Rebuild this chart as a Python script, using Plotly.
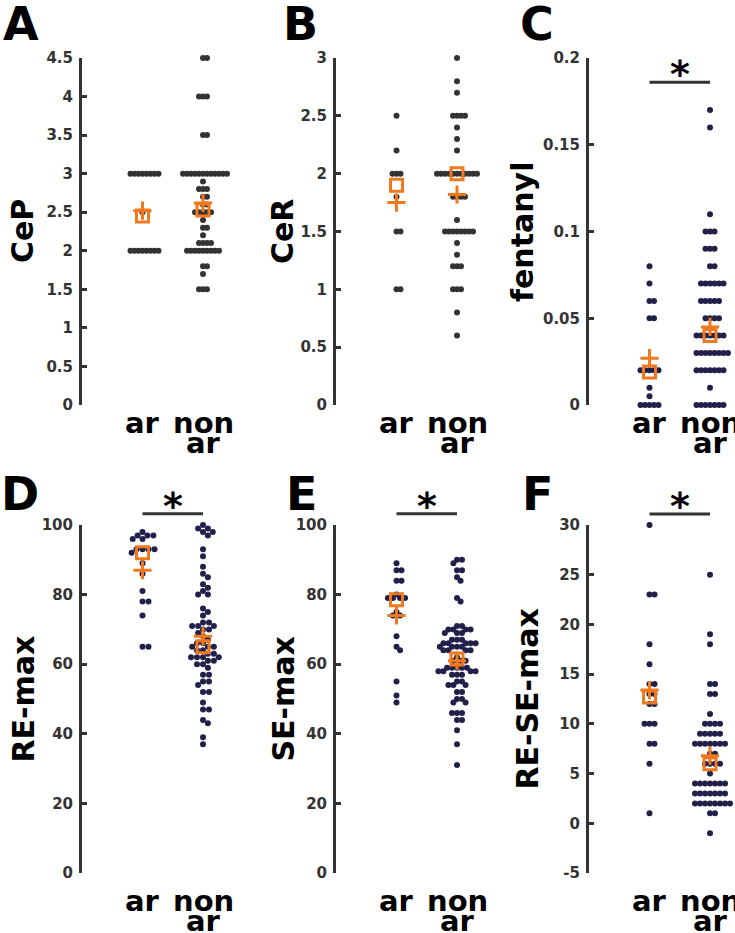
import plotly.graph_objects as go
import math

W, H = 735, 933

categories = ["ar", "non ar"]

# ---------------- data ----------------
cep_ar = [3, 3, 3, 3, 3, 3, 3, 3, 2.5, 2, 2, 2, 2, 2, 2, 2, 2]
cep_non = [4.5, 4.5, 4, 4, 4, 3.5, 3.5, 3, 3, 3, 3, 3, 3, 3, 3, 3, 3, 3, 3, 2.9,
           2.8, 2.8, 2.8, 2.7, 2.7, 2.6, 2.6, 2.5, 2.5, 2.5, 2.5, 2.5, 2.4, 2.3, 2.3,
           2.2, 2.1, 2.1, 2.1, 2.1, 2, 2, 2, 2, 2, 2, 2, 2, 2, 1.8, 1.8, 1.7, 1.5, 1.5, 1.5]
cep_mean = [2.52, 2.62]
cep_median = [2.45, 2.53]
cep_ticks = [0, 0.5, 1, 1.5, 2, 2.5, 3, 3.5, 4, 4.5]
cep_ticktext = ["0", "0.5", "1", "1.5", "2", "2.5", "3", "3.5", "4", "4.5"]

cer_ar = [2.5, 2.2, 2, 2, 2, 1.8, 1.5, 1.5, 1, 1]
cer_non = [3, 2.8, 2.7, 2.5, 2.5, 2.5, 2.5, 2.4, 2.3, 2.2, 2, 2, 2, 2, 2, 2, 2, 2, 2, 2, 2,
           1.8, 1.8, 1.8, 1.8, 1.6, 1.5, 1.5, 1.5, 1.5, 1.5, 1.5, 1.5, 1.5, 1.4, 1.3,
           1.2, 1.2, 1.2, 1, 1, 1, 0.8, 0.6]
cer_mean = [1.75, 1.82]
cer_median = [1.9, 2.0]
cer_ticks = [0, 0.5, 1, 1.5, 2, 2.5, 3]
cer_ticktext = ["0", "0.5", "1", "1.5", "2", "2.5", "3"]

fent_ar = [0.08, 0.07, 0.06, 0.06, 0.05, 0.05, 0.02, 0.02, 0.02, 0.02, 0.02, 0.01,
           0.005, 0, 0, 0, 0, 0]
fent_non = [0.17, 0.16, 0.11, 0.1, 0.1, 0.1, 0.09, 0.09, 0.09, 0.08, 0.08,
            0.07, 0.07, 0.07, 0.07, 0.07, 0.07, 0.06, 0.06, 0.06, 0.06, 0.06,
            0.05, 0.05, 0.05, 0.05, 0.04, 0.04, 0.04, 0.04, 0.04, 0.04, 0.04,
            0.03, 0.03, 0.03, 0.03, 0.03, 0.03, 0.03, 0.03,
            0.02, 0.02, 0.02, 0.02, 0.02, 0.02, 0.02, 0.01,
            0, 0, 0, 0, 0, 0, 0]
fent_mean = [0.027, 0.045]
fent_median = [0.019, 0.04]
fent_ticks = [0, 0.05, 0.1, 0.15, 0.2]
fent_ticktext = ["0", "0.05", "0.1", "0.15", "0.2"]

remax_ar = [98, 97, 97, 97, 96, 96, 93, 93, 93, 93, 92, 89, 86, 81, 78, 78, 74, 65, 65]
remax_non = [100, 99, 99, 98, 98, 97, 93, 91, 88, 86, 85, 83, 82, 81, 80, 80, 76, 75,
             74, 72, 72, 71, 71, 71, 70, 70, 69, 68, 67, 66, 66, 65, 65, 65, 64, 64,
             63, 63, 62, 62, 62, 62, 61, 61, 60, 60, 59, 57, 57, 55, 55, 54, 52, 52,
             49, 47, 47, 44, 43, 39, 37]
remax_mean = [87, 68]
remax_median = [92, 65]
max_ticks = [0, 20, 40, 60, 80, 100]
max_ticktext = ["0", "20", "40", "60", "80", "100"]

semax_ar = [89, 87, 87, 84, 84, 80, 79, 79, 79, 79, 75, 74, 74, 68, 65, 64, 55, 51, 49]
semax_non = [90, 90, 89, 87, 87, 85, 84, 79, 78, 71, 71, 70, 70, 70, 70, 69, 69, 69,
             67, 67, 67, 66, 66, 66, 66, 66, 65, 65, 65, 65, 64, 64, 64, 64, 62, 61,
             61, 61, 59, 59, 59, 59, 59, 58, 58, 58, 58, 57, 57, 57, 55, 55, 54, 54,
             54, 52, 52, 50, 50, 49, 49, 46, 46, 46, 44, 44, 41, 37, 31]
semax_mean = [74, 61]
semax_median = [78.5, 61.5]

resemax_ar = [30, 23, 23, 18, 16, 14, 14, 13, 13, 12, 12, 10, 10, 10, 8, 8, 6, 1]
resemax_non = [25, 19, 18, 14, 14, 13, 13, 11, 10, 10, 10, 10, 9, 9, 9, 9, 9,
               8, 8, 8, 8, 8, 8, 8, 7, 7, 6, 6, 6, 6, 5, 4, 4, 4, 4, 4, 4, 4,
               3, 3, 3, 3, 3, 3, 3, 2, 2, 2, 2, 2, 2, 2, 2, 1, 1, -1]
resemax_mean = [13.4, 6.8]
resemax_median = [12.7, 6.0]
diff_ticks = [-5, 0, 5, 10, 15, 20, 25, 30]
diff_ticktext = ["-5", "0", "5", "10", "15", "20", "25", "30"]

# significance bars (value on y axis), None = no bar
sig_levels = [None, None, 0.186, 103.2, 103.2, 31.1]

# ---------------- style / geometry ----------------
GRAY = "#333333"
NAVY = "#20204a"
ORANGE = "#f0781e"
FONT = "DejaVu Sans"

COL_LEFT = [82, 336, 589]
ROW_TOP = [58, 525]
ROW_BOTTOM = [405, 873]
PX_PER_X = 60.5
X_MAX = 2.4

LETTER_SIZE = 46
YLAB_SIZE = 30
XLAB_SIZE = 29
TICK_SIZE = 15
STAR_SIZE = 38

panels = [
    dict(letter="A", ylabel="CeP", groups=(cep_ar, cep_non), mean=cep_mean, median=cep_median,
         ticks=cep_ticks, ticktext=cep_ticktext, color=GRAY, gap=4.0, row=0, col=0,
         letter_pos=(21, 40), ylab_base=33),
    dict(letter="B", ylabel="CeR", groups=(cer_ar, cer_non), mean=cer_mean, median=cer_median,
         ticks=cer_ticks, ticktext=cer_ticktext, color=GRAY, gap=4.0, row=0, col=1,
         letter_pos=(300, 40), ylab_base=293),
    dict(letter="C", ylabel="fentanyl", groups=(fent_ar, fent_non), mean=fent_mean, median=fent_median,
         ticks=fent_ticks, ticktext=fent_ticktext, color=NAVY, gap=4.5, row=0, col=2,
         letter_pos=(537, 40), ylab_base=533),
    dict(letter="D", ylabel="RE-max", groups=(remax_ar, remax_non), mean=remax_mean, median=remax_median,
         ticks=max_ticks, ticktext=max_ticktext, color=NAVY, gap=6.0, row=1, col=0,
         letter_pos=(20, 510), ylab_base=33),
    dict(letter="E", ylabel="SE-max", groups=(semax_ar, semax_non), mean=semax_mean, median=semax_median,
         ticks=max_ticks, ticktext=max_ticktext, color=NAVY, gap=5.0, row=1, col=1,
         letter_pos=(301, 510), ylab_base=293),
    dict(letter="F", ylabel="RE-SE-max", groups=(resemax_ar, resemax_non), mean=resemax_mean,
         median=resemax_median, ticks=diff_ticks, ticktext=diff_ticktext, color=NAVY, gap=5.0,
         row=1, col=2, letter_pos=(537, 510), ylab_base=537),
]

XLAB_CENTERS = [(425, 445), (903, 923)]  # x-height centres of tick label lines per row


def swarm_offsets(values, px_per_y, gap):
    """Simple beeswarm: returns horizontal pixel offsets."""
    placed = []
    offs = []
    for v in values:
        y = v * px_per_y
        cands = [0.0]
        for (px, py) in placed:
            dy = abs(py - y)
            if dy < gap:
                dx = math.sqrt(gap * gap - dy * dy)
                cands += [px + dx + 1e-6, px - dx - 1e-6]
        cands.sort(key=lambda c: (round(abs(c), 3), -c))
        chosen = 0.0
        for c in cands:
            if all((c - px) ** 2 + (y - py) ** 2 >= gap * gap - 1e-6 for px, py in placed):
                chosen = c
                break
        placed.append((chosen, y))
        offs.append(chosen)
    return offs


def px_to_paper_y(py):
    return 1 - py / H


def px_to_paper_x(px):
    return px / W


fig = go.Figure()
annotations = []
shapes = []

for i, p in enumerate(panels):
    n = i + 1
    xa = "x" if n == 1 else f"x{n}"
    ya = "y" if n == 1 else f"y{n}"
    top, bottom = ROW_TOP[p["row"]], ROW_BOTTOM[p["row"]]
    left = COL_LEFT[p["col"]]
    r0, r1 = p["ticks"][0], p["ticks"][-1]
    px_per_y = (bottom - top) / (r1 - r0)

    def val_to_px(v, r0=r0, bottom=bottom, px_per_y=px_per_y):
        return bottom - (v - r0) * px_per_y

    for g, vals in enumerate(p["groups"]):
        offs = swarm_offsets(vals, px_per_y, p["gap"])
        xs = [g + 1 + o / PX_PER_X for o in offs]
        fig.add_trace(go.Scatter(x=xs, y=vals, mode="markers", xaxis=xa, yaxis=ya,
                                 marker=dict(size=6, color=p["color"]),
                                 cliponaxis=False, showlegend=False, hoverinfo="y"))
    # median (open square) and mean (plus)
    fig.add_trace(go.Scatter(x=[1, 2], y=p["median"], mode="markers", xaxis=xa, yaxis=ya,
                             marker=dict(symbol="square-open", size=12, color=ORANGE,
                                         line=dict(width=3, color=ORANGE)),
                             cliponaxis=False, showlegend=False))
    fig.add_trace(go.Scatter(x=[1, 2], y=p["mean"], mode="markers", xaxis=xa, yaxis=ya,
                             marker=dict(symbol="cross-thin", size=13, color=ORANGE,
                                         line=dict(width=3, color=ORANGE)),
                             cliponaxis=False, showlegend=False))

    xdom = [px_to_paper_x(left), px_to_paper_x(left + X_MAX * PX_PER_X)]
    ydom = [px_to_paper_y(bottom), px_to_paper_y(top)]
    fig.update_layout(**{
        ("xaxis" if n == 1 else f"xaxis{n}"): dict(domain=xdom, range=[0, X_MAX], visible=False,
                                                   anchor=ya, fixedrange=True, automargin=False),
        ("yaxis" if n == 1 else f"yaxis{n}"): dict(
            domain=ydom, range=[r0, r1], anchor=xa, tickvals=p["ticks"], ticktext=p["ticktext"],
            showline=True, linecolor=GRAY, linewidth=3, ticks="inside", ticklen=5,
            tickwidth=3, tickcolor=GRAY, showgrid=False, zeroline=False, automargin=False,
            ticklabelstandoff=3, fixedrange=True,
            tickfont=dict(family=FONT, size=TICK_SIZE, color=GRAY, weight="bold")),
    })

    # panel letter
    lx, lbase = p["letter_pos"]
    annotations.append(dict(text=p["letter"], x=px_to_paper_x(lx),
                            y=px_to_paper_y(lbase - 0.346 * LETTER_SIZE),
                            xref="paper", yref="paper", xanchor="center", yanchor="middle",
                            showarrow=False,
                            font=dict(family=FONT, size=LETTER_SIZE, color="black", weight="bold")))
    # y label (rotated, baseline on the right)
    annotations.append(dict(text=p["ylabel"], x=px_to_paper_x(p["ylab_base"] - 0.346 * YLAB_SIZE),
                            y=px_to_paper_y((top + bottom) / 2), xref="paper", yref="paper",
                            xanchor="center", yanchor="middle", textangle=-90, showarrow=False,
                            font=dict(family=FONT, size=YLAB_SIZE, color="black", weight="bold")))
    # category labels
    l1, l2 = XLAB_CENTERS[p["row"]]
    lab_lines = [(1, categories[0].split(" ")[0], l1)]
    words = categories[1].split(" ")
    lab_lines += [(2, words[0], l1), (2, words[1], l2)]
    for cx, txt, cy in lab_lines:
        annotations.append(dict(text=txt, x=cx, xref=xa, y=px_to_paper_y(cy - 0.066 * XLAB_SIZE),
                                yref="paper", xanchor="center", yanchor="middle", showarrow=False,
                                font=dict(family=FONT, size=XLAB_SIZE, color="black", weight="bold")))
    # significance
    s = sig_levels[i]
    if s is not None:
        ly = val_to_px(s)
        shapes.append(dict(type="line", xref=xa, yref="paper", x0=1, x1=2,
                           y0=px_to_paper_y(ly), y1=px_to_paper_y(ly),
                           line=dict(color=GRAY, width=3)))
        annotations.append(dict(text="*", x=1.5, xref=xa, y=px_to_paper_y(ly - 8), yref="paper",
                                xanchor="center", yanchor="middle", showarrow=False,
                                font=dict(family=FONT, size=STAR_SIZE, color="black", weight="bold")))

fig.update_layout(template="none", width=W, height=H, margin=dict(l=0, r=0, t=0, b=0, pad=0),
                  paper_bgcolor="white", plot_bgcolor="white",
                  annotations=annotations, shapes=shapes, showlegend=False)

fig.write_html("out.html", config={"responsive": False, "displayModeBar": False},
               post_script="document.body.style.margin='0px';document.body.style.padding='0px';")
